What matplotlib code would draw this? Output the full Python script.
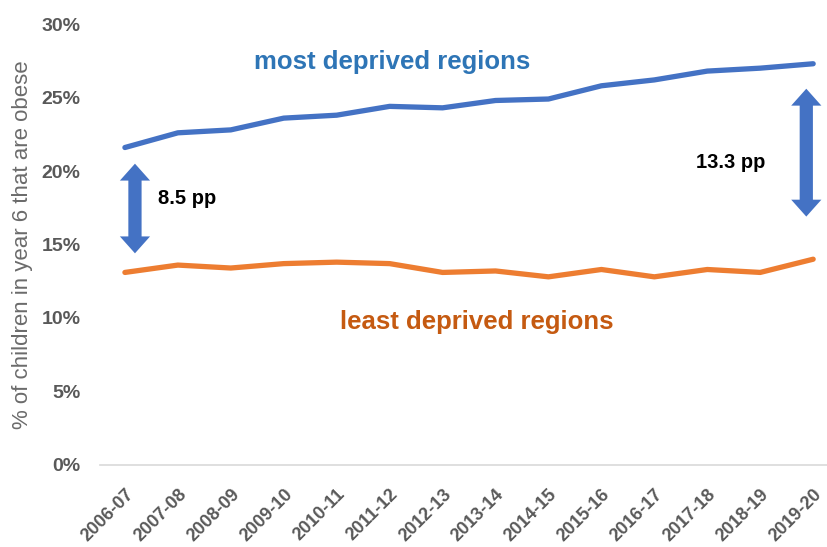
import matplotlib
matplotlib.use("Agg")
import matplotlib.pyplot as plt
from matplotlib.patches import Polygon

plt.rcParams['font.family'] = ['Liberation Sans', 'DejaVu Sans']

years = ['2006-07', '2007-08', '2008-09', '2009-10', '2010-11', '2011-12', '2012-13',
         '2013-14', '2014-15', '2015-16', '2016-17', '2017-18', '2018-19', '2019-20']
most_deprived = [21.6, 22.6, 22.8, 23.6, 23.8, 24.4, 24.3, 24.8, 24.9, 25.8, 26.2, 26.8, 27.0, 27.3]
least_deprived = [13.1, 13.6, 13.4, 13.7, 13.8, 13.7, 13.1, 13.2, 12.8, 13.3, 12.8, 13.3, 13.1, 14.0]
gap_labels = ['8.5 pp', '13.3 pp']

blue = '#4472C4'
orange = '#ED7D31'
grey = '#595959'

fig = plt.figure(figsize=(8.28, 5.47), dpi=100)
ax = fig.add_axes([0.1208, 0.150, 0.8792, 0.806])

x = list(range(len(years)))
ax.plot(x, most_deprived, color=blue, lw=3.8, solid_capstyle='round')
ax.plot(x, least_deprived, color=orange, lw=3.8, solid_capstyle='round')

ax.set_xlim(-0.47, 13.28)
ax.set_ylim(0, 30)
ax.set_yticks(range(0, 31, 5))
ax.set_yticklabels([f'{v}%' for v in range(0, 31, 5)], fontsize=14, fontweight='bold', color=grey)
ax.set_xticks(x)
ax.set_xticklabels(years, rotation=45, ha='right', va='top', rotation_mode='anchor',
                   fontsize=13, fontweight='bold', color=grey)
ax.tick_params(axis='both', length=0)
ax.tick_params(axis='y', pad=14)
ax.tick_params(axis='x', pad=15)

for side in ['top', 'right', 'left']:
    ax.spines[side].set_visible(False)
ax.spines['bottom'].set_color('#D9D9D9')
ax.spines['bottom'].set_linewidth(1.2)

ax.set_ylabel('% of children in year 6 that are obese', fontsize=16, color='#6B6B6B', labelpad=6)


# double-headed block arrow, one polygon (shaft width / head size in data units)
def gap_arrow(xpos, top, bottom, shaft=0.125, head=0.285, head_len=1.15):
    pts = [(xpos, top),
           (xpos + head, top - head_len), (xpos + shaft, top - head_len),
           (xpos + shaft, bottom + head_len), (xpos + head, bottom + head_len),
           (xpos, bottom),
           (xpos - head, bottom + head_len), (xpos - shaft, bottom + head_len),
           (xpos - shaft, top - head_len), (xpos - head, top - head_len)]
    ax.add_patch(Polygon(pts, closed=True, color=blue, lw=0))


gap_arrow(x[0] + 0.19, most_deprived[0] - 1.1, least_deprived[0] + 1.3)
gap_arrow(x[-1] - 0.13, most_deprived[-1] - 1.7, least_deprived[-1] + 2.9)

ax.text(x[0] + 0.62, 18.1, gap_labels[0], fontsize=14.5, fontweight='bold', color='black',
        ha='left', va='center')
ax.text(x[-1] - 0.91, 20.6, gap_labels[1], fontsize=14.5, fontweight='bold', color='black',
        ha='right', va='center')

ax.text(5.05, 27.45, 'most deprived regions', fontsize=18.5, fontweight='bold',
        color='#2E75B6', ha='center', va='center')
ax.text(6.65, 9.7, 'least deprived regions', fontsize=18.5, fontweight='bold',
        color='#C55A11', ha='center', va='center')

fig.savefig('out.png', dpi=100)
